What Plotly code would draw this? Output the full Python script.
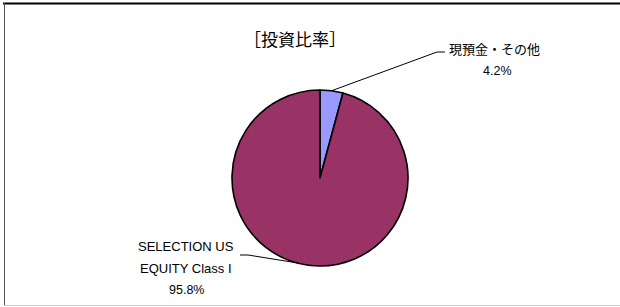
import math
import plotly.graph_objects as go

labels = ["現預金・その他", "SELECTION US EQUITY Class I"]
values = [4.2, 95.8]
colors = ["#9999FF", "#993366"]
title_text = "［投資比率］"

W, H = 620, 307
cx, cy, r = 320, 178, 88  # pixel layout of pie

fig = go.Figure(go.Pie(
    labels=labels, values=values, sort=False, direction="clockwise", rotation=0,
    marker=dict(colors=colors, line=dict(color="black", width=1.6)),
    textinfo="none", hoverinfo="label+percent", showlegend=False,
    domain=dict(x=[(cx - r) / W, (cx + r) / W], y=[1 - (cy + r) / H, 1 - (cy - r) / H]),
))

def px(x):
    return x / W

def py(y):
    return 1 - y / H

fam = "Liberation Sans, Noto Sans CJK JP, sans-serif"

mid_small = 360 * values[0] / sum(values) / 2
ex = cx + r * math.sin(math.radians(mid_small))
ey = cy - r * math.cos(math.radians(mid_small))
shapes = [
    dict(type="path", xref="paper", yref="paper",
         path=f"M {px(ex)} {py(ey)} L {px(437)} {py(52)} L {px(445)} {py(52)}",
         line=dict(color="black", width=1)),
    dict(type="path", xref="paper", yref="paper",
         path=f"M {px(298)} {py(263)} L {px(248)} {py(255)} L {px(240)} {py(255)}",
         line=dict(color="black", width=1)),
    dict(type="line", xref="paper", yref="paper", x0=px(3), x1=1, y0=py(3.5), y1=py(3.5),
         line=dict(color="black", width=2)),
    dict(type="line", xref="paper", yref="paper", x0=px(4.5), x1=px(4.5), y0=py(3), y1=py(306),
         line=dict(color="#555555", width=1)),
    dict(type="line", xref="paper", yref="paper", x0=px(4), x1=1, y0=py(305.5), y1=py(305.5),
         line=dict(color="#cccccc", width=1)),
]

def ann(text, x, y, size=12.5):
    return dict(text=text, x=px(x), y=py(y), xref="paper", yref="paper", showarrow=False,
                font=dict(family=fam, size=size, color="black"), xanchor="center", yanchor="middle")

annotations = [
    ann(title_text, 295, 40, 17),
    ann(labels[0], 494, 50, 13),
    ann(f"{values[0]}%", 497, 71),
    ann("SELECTION US", 186, 246, 13),
    ann("EQUITY Class I", 186, 268, 13),
    ann(f"{values[1]}%", 186, 290),
]

fig.update_layout(width=W, height=H, margin=dict(l=0, r=0, t=0, b=0),
                  paper_bgcolor="white", plot_bgcolor="white",
                  shapes=shapes, annotations=annotations)
fig.write_html("out.html", config={"displayModeBar": False},
               post_script="document.body.style.margin='0';document.body.style.overflow='hidden';")
